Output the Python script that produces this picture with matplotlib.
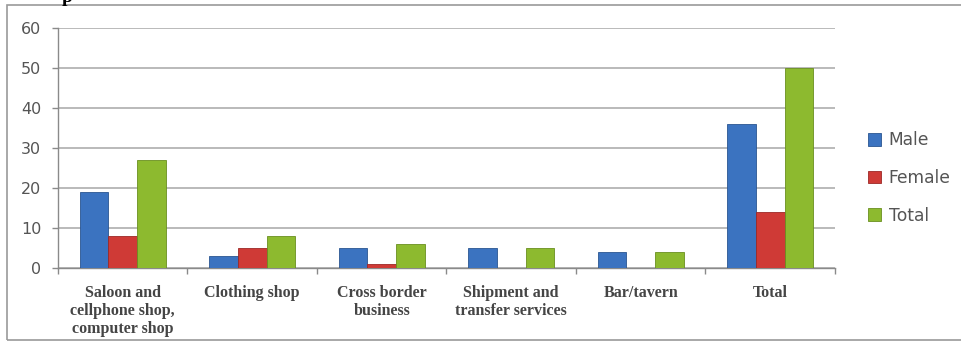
import matplotlib.pyplot as plt
import matplotlib.patches as mpatches
import numpy as np

categories = ['Saloon and\ncellphone shop,\ncomputer shop', 'Clothing shop',
              'Cross border\nbusiness', 'Shipment and\ntransfer services',
              'Bar/tavern', 'Total']
male = [19, 3, 5, 5, 4, 36]
female = [8, 5, 1, 0, 0, 14]
total = [27, 8, 6, 5, 4, 50]

series = [('Male', male, '#3b73c0', '#2a5591'),
          ('Female', female, '#cf3a36', '#9c2825'),
          ('Total', total, '#8dba2f', '#6a8f1f')]

fig = plt.figure(figsize=(9.62, 3.49), dpi=100)
ax = fig.add_axes([58/962, 1-268/349, (835-58)/962, (268-28)/349])

# outer chart border
fig.patches.append(mpatches.Rectangle((7/962, 1-340/349), 1.0, 335/349,
                                      transform=fig.transFigure, fill=False,
                                      edgecolor='#9a9a9a', lw=1.2))
# tail of the heading above the chart
fig.text(67/962, 1-2/349, 'p', fontsize=14, fontweight='bold',
         family='Liberation Serif', ha='center', va='baseline')

x = np.arange(len(categories))
w = 1/4.5
for i, (name, vals, col, edge) in enumerate(series):
    ax.bar(x + (i-1)*w, vals, w, color=col, edgecolor=edge, lw=0.6,
           label=name, zorder=3)

ax.set_xlim(-0.5, len(categories)-0.5)
ax.set_ylim(0, 60)
ax.set_yticks(range(0, 61, 10))
ax.yaxis.grid(True, color='#b4b4b4', lw=1.3, zorder=0)
ax.tick_params(axis='y', colors='#8a8a8a', labelcolor='#555555',
               labelsize=11.5, length=4, width=1, pad=8)

ax.set_xticks(np.arange(-0.5, len(categories)), labels=[])
ax.set_xticks(x, labels=categories, minor=True)
ax.tick_params(axis='x', which='major', colors='#8a8a8a', length=4, width=1)
ax.tick_params(axis='x', which='minor', length=0, pad=12,
               labelcolor='#454545', labelsize=11.5)
for lbl in ax.get_xticklabels(minor=True):
    lbl.set_family('Liberation Serif')
    lbl.set_fontweight('bold')
    lbl.set_linespacing(1.2)

for s in ['top', 'right']:
    ax.spines[s].set_visible(False)
for s in ['left', 'bottom']:
    ax.spines[s].set_color('#8a8a8a')
    ax.spines[s].set_linewidth(1)

leg = ax.legend(loc='center left', bbox_to_anchor=(1.023, 0.375), frameon=False,
                fontsize=12.3, handlelength=0.75, handleheight=0.75,
                handletextpad=0.45, labelspacing=1.15)
for t in leg.get_texts():
    t.set_color('#555555')

fig.savefig('out.png', dpi=100)
